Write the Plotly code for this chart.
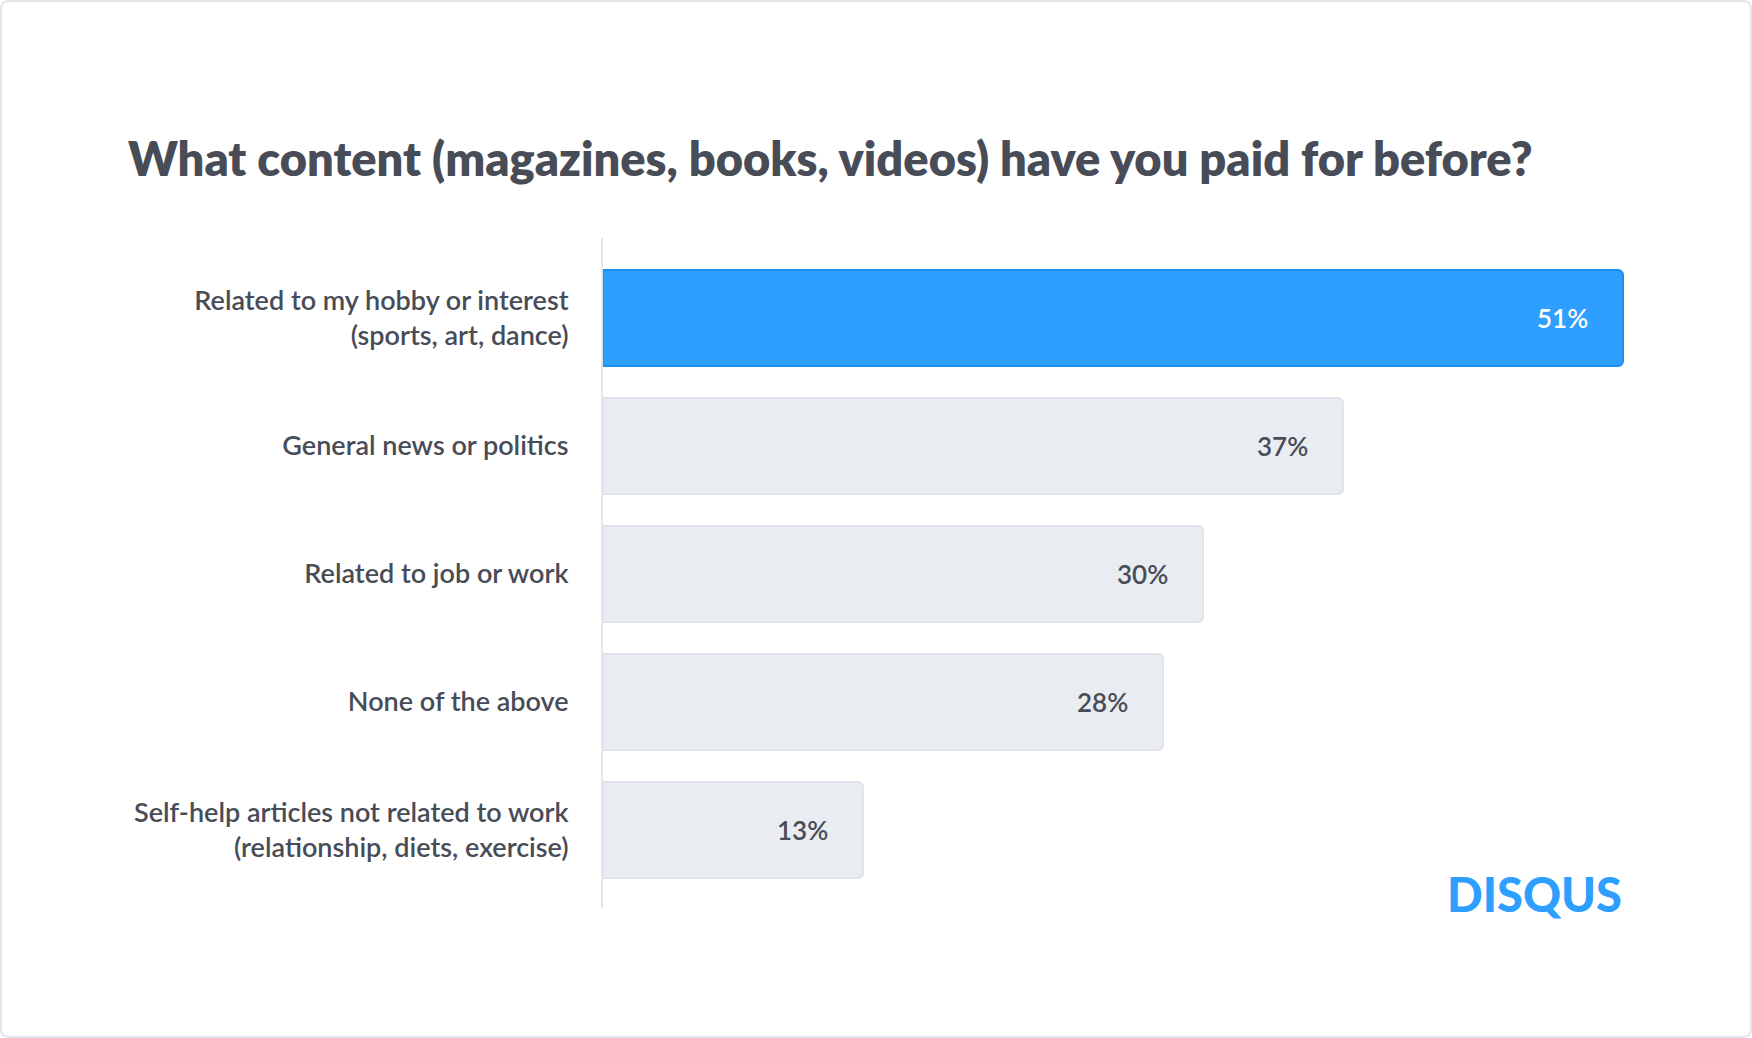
import plotly.graph_objects as go

categories = [
    "Related to my hobby or interest<br>(sports, art, dance)",
    "General news or politics",
    "Related to job or work",
    "None of the above",
    "Self-help articles not related to work<br>(relationship, diets, exercise)",
]
values = [51, 37, 30, 28, 13]
highlight = [True, False, False, False, False]
title_text = "What content (magazines, books, videos) have you paid for before?"
logo_text = "DISQUS"

W, H = 1752, 1038
ML, MR, MT, MB = 603, 49, 238, 130
PW, PH = W - ML - MR, H - MT - MB

BLUE = "#2E9EFF"
BLUE_LINE = "#1C8EEE"
GREY = "#E9ECF1"
GREY_LINE = "#E0E3E9"
TEXT = "#484C57"
FONT = "Lato"

fill = [BLUE if h else GREY for h in highlight]
line = [BLUE_LINE if h else GREY_LINE for h in highlight]


def px(xp):
    return (xp - ML) / PW


def py(yp):
    return (MT + PH - yp) / PH


fig = go.Figure(go.Bar(
    x=values, y=categories, orientation="h",
    width=0.75,
    marker=dict(color=fill, line=dict(color=line, width=2), cornerradius=5),
    hoverinfo="skip",
))

for v, c, h in zip(values, categories, highlight):
    fig.add_annotation(
        x=v, y=c, text=f"{v}%", showarrow=False, xanchor="right", xshift=-33,
        font=dict(family=FONT, size=26, color="white" if h else TEXT, weight=600),
    )

fig.add_annotation(
    xref="paper", yref="paper", x=px(1624), y=py(894),
    text=logo_text, showarrow=False, xanchor="right", yanchor="middle",
    font=dict(family=FONT, size=47, color="#2E9EFF", weight=900),
)

r = 8
x0, x1, y0, y1 = 1, W - 1, 1, H - 1
path = (
    f"M {px(x0 + r)} {py(y0)} L {px(x1 - r)} {py(y0)} "
    f"Q {px(x1)} {py(y0)} {px(x1)} {py(y0 + r)} "
    f"L {px(x1)} {py(y1 - r)} Q {px(x1)} {py(y1)} {px(x1 - r)} {py(y1)} "
    f"L {px(x0 + r)} {py(y1)} Q {px(x0)} {py(y1)} {px(x0)} {py(y1 - r)} "
    f"L {px(x0)} {py(y0 + r)} Q {px(x0)} {py(y0)} {px(x0 + r)} {py(y0)} Z"
)
fig.add_shape(type="path", xref="paper", yref="paper", path=path,
              line=dict(color="#E3E6EC", width=2), layer="below")

fig.update_layout(
    width=W, height=H,
    margin=dict(l=ML, r=MR, t=MT, b=MB, autoexpand=False),
    paper_bgcolor="white", plot_bgcolor="white",
    showlegend=False,
    title=dict(
        text=title_text, xref="container", yref="container",
        x=128 / W, xanchor="left", y=1 - 160 / H, yanchor="middle",
        font=dict(family=FONT, size=47, color=TEXT, weight=800),
    ),
    xaxis=dict(range=[0, 55], visible=False, fixedrange=True),
    yaxis=dict(
        range=[4.61, -0.625], showgrid=False, zeroline=False,
        showline=True, linecolor="#E3E6EC", linewidth=2,
        ticks="outside", ticklen=27, tickcolor="rgba(0,0,0,0)",
        tickfont=dict(family=FONT, size=27, color=TEXT, weight=600),
        fixedrange=True,
    ),
)

fig.write_html("out.html", config={"displayModeBar": False},
               post_script="document.body.style.margin='0';document.body.style.overflow='hidden';")
